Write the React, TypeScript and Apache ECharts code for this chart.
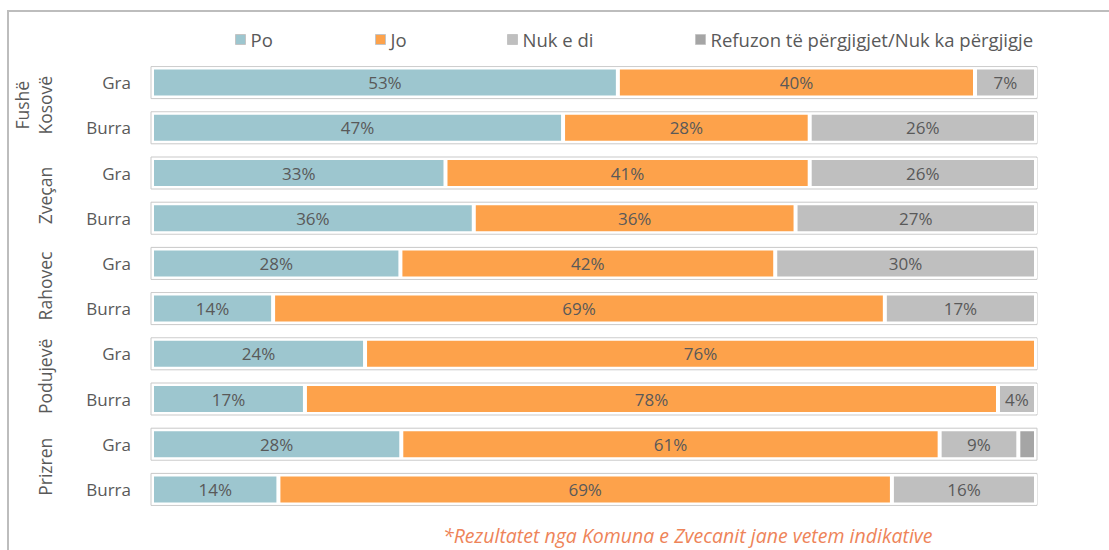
import React, { useEffect, useRef } from "react";
import * as echarts from "echarts";

const rowKeys = ["FK-Gra", "FK-Burra", "Zv-Gra", "Zv-Burra", "Ra-Gra", "Ra-Burra", "Po-Gra", "Po-Burra", "Pr-Gra", "Pr-Burra"];
const rowLabels = ["Gra", "Burra", "Gra", "Burra", "Gra", "Burra", "Gra", "Burra", "Gra", "Burra"];
const groups = ["Fushë\nKosovë", "Zveçan", "Rahovec", "Podujevë", "Prizren"];
const seriesNames = ["Po", "Jo", "Nuk e di", "Refuzon të përgjigjet/Nuk ka përgjigje"];
const poValues = [52.7, 46.5, 33.2, 36.4, 28.1, 13.7, 24.1, 17.3, 28.2, 14.3];
const joValues = [40.4, 27.9, 41.2, 36.4, 42.4, 69.2, 75.9, 78.4, 60.9, 69.4];
const nukValues = [6.9, 25.6, 25.6, 27.2, 29.5, 17.1, 0, 4.3, 8.9, 16.3];
const refValues = [0, 0, 0, 0, 0, 0, 0, 0, 2.0, 0];
const frameValues = [100, 100, 100, 100, 100, 100, 100, 100, 100, 100];
const note = "*Rezultatet nga Komuna e Zvecanit jane vetem indikative";

const colors = ["#9DC6CF", "#FDA24B", "#BFBFBF", "#A5A5A5"];
const FONT = "Open Sans";
const TXT = "#595959";

export default function App() {
  const ref = useRef<HTMLDivElement>(null);
  useEffect(() => {
    if (!ref.current) return;
    const chart = echarts.init(ref.current, null, { renderer: "svg" });
    const valueSets = [poValues, joValues, nukValues, refValues];
    const legendLefts = [235, 375, 507, 695];
    const mainSeries = seriesNames.map((name, i) => ({
      name,
      type: "bar",
      stack: "total",
      xAxisIndex: 0,
      yAxisIndex: 0,
      barWidth: 30,
      z: 3,
      data: valueSets[i],
      itemStyle: { color: colors[i], borderColor: "#ffffff", borderWidth: 2 },
      label: {
        show: i < 3,
        position: "inside",
        color: TXT,
        fontFamily: FONT,
        fontSize: 17,
        formatter: (p: any) => (p.value > 0 ? Math.round(p.value) + "%" : ""),
      },
    }));
    const option: any = {
      animation: false,
      textStyle: { fontFamily: FONT },
      legend: seriesNames.map((name, i) => ({
        data: [name],
        left: legendLefts[i],
        top: 30,
        padding: 0,
        itemWidth: 10,
        itemHeight: 10,
        itemGap: 0,
        itemTextGap: 5,
        icon: "rect",
        selectedMode: false,
        itemStyle: { borderColor: "#c4c4c4", borderWidth: 1 },
        textStyle: { color: TXT, fontFamily: FONT, fontSize: 18.5 },
      })),
      grid: [
        { left: 152, width: 884, top: 60, height: 452 },
        { left: 150.5, width: 887, top: 60, height: 452 },
      ],
      xAxis: [
        { type: "value", gridIndex: 0, min: 0, max: 100, show: false },
        { type: "value", gridIndex: 1, min: 0, max: 100, show: false },
      ],
      yAxis: [
        {
          type: "category",
          gridIndex: 0,
          data: rowKeys,
          inverse: true,
          axisLine: { show: false },
          axisTick: { show: false },
          axisLabel: {
            margin: 21,
            interval: 0,
            color: TXT,
            fontFamily: FONT,
            fontSize: 17,
            formatter: (_v: string, idx: number) => rowLabels[idx],
          },
        },
        {
          type: "category",
          gridIndex: 1,
          data: rowKeys,
          inverse: true,
          show: false,
        },
        {
          type: "category",
          gridIndex: 0,
          data: groups,
          inverse: true,
          position: "left",
          offset: 88,
          axisLine: { show: false },
          axisTick: { show: false },
          axisLabel: {
            rotate: 90,
            margin: 8,
            interval: 0,
            hideOverlap: false,
            color: TXT,
            fontFamily: FONT,
            fontSize: 17.5,
            lineHeight: 23,
          },
        },
      ],
      series: [
        {
          name: "frame",
          type: "bar",
          xAxisIndex: 1,
          yAxisIndex: 1,
          barWidth: 33,
          silent: true,
          z: 1,
          data: frameValues,
          itemStyle: { color: "#ffffff", borderColor: "#c9c9c9", borderWidth: 1 },
        },
        ...mainSeries,
      ],
      graphic: [
        {
          type: "rect",
          shape: { x: 8, y: 11, width: 1300, height: 700 },
          style: { fill: "none", stroke: "#bdbdbd", lineWidth: 2 },
          silent: true,
        },
        {
          type: "text",
          x: 443,
          y: 535,
          style: {
            text: note,
            fill: "#EE8459",
            font: "italic 19.5px 'Open Sans'",
            verticalAlign: "middle",
            align: "left",
          },
        },
      ],
    };
    chart.setOption(option);
    return () => chart.dispose();
  }, []);
  return (
    <div
      ref={ref}
      style={{ position: "fixed", left: 0, top: 0, width: 1109, height: 550, background: "#fff" }}
    />
  );
}
